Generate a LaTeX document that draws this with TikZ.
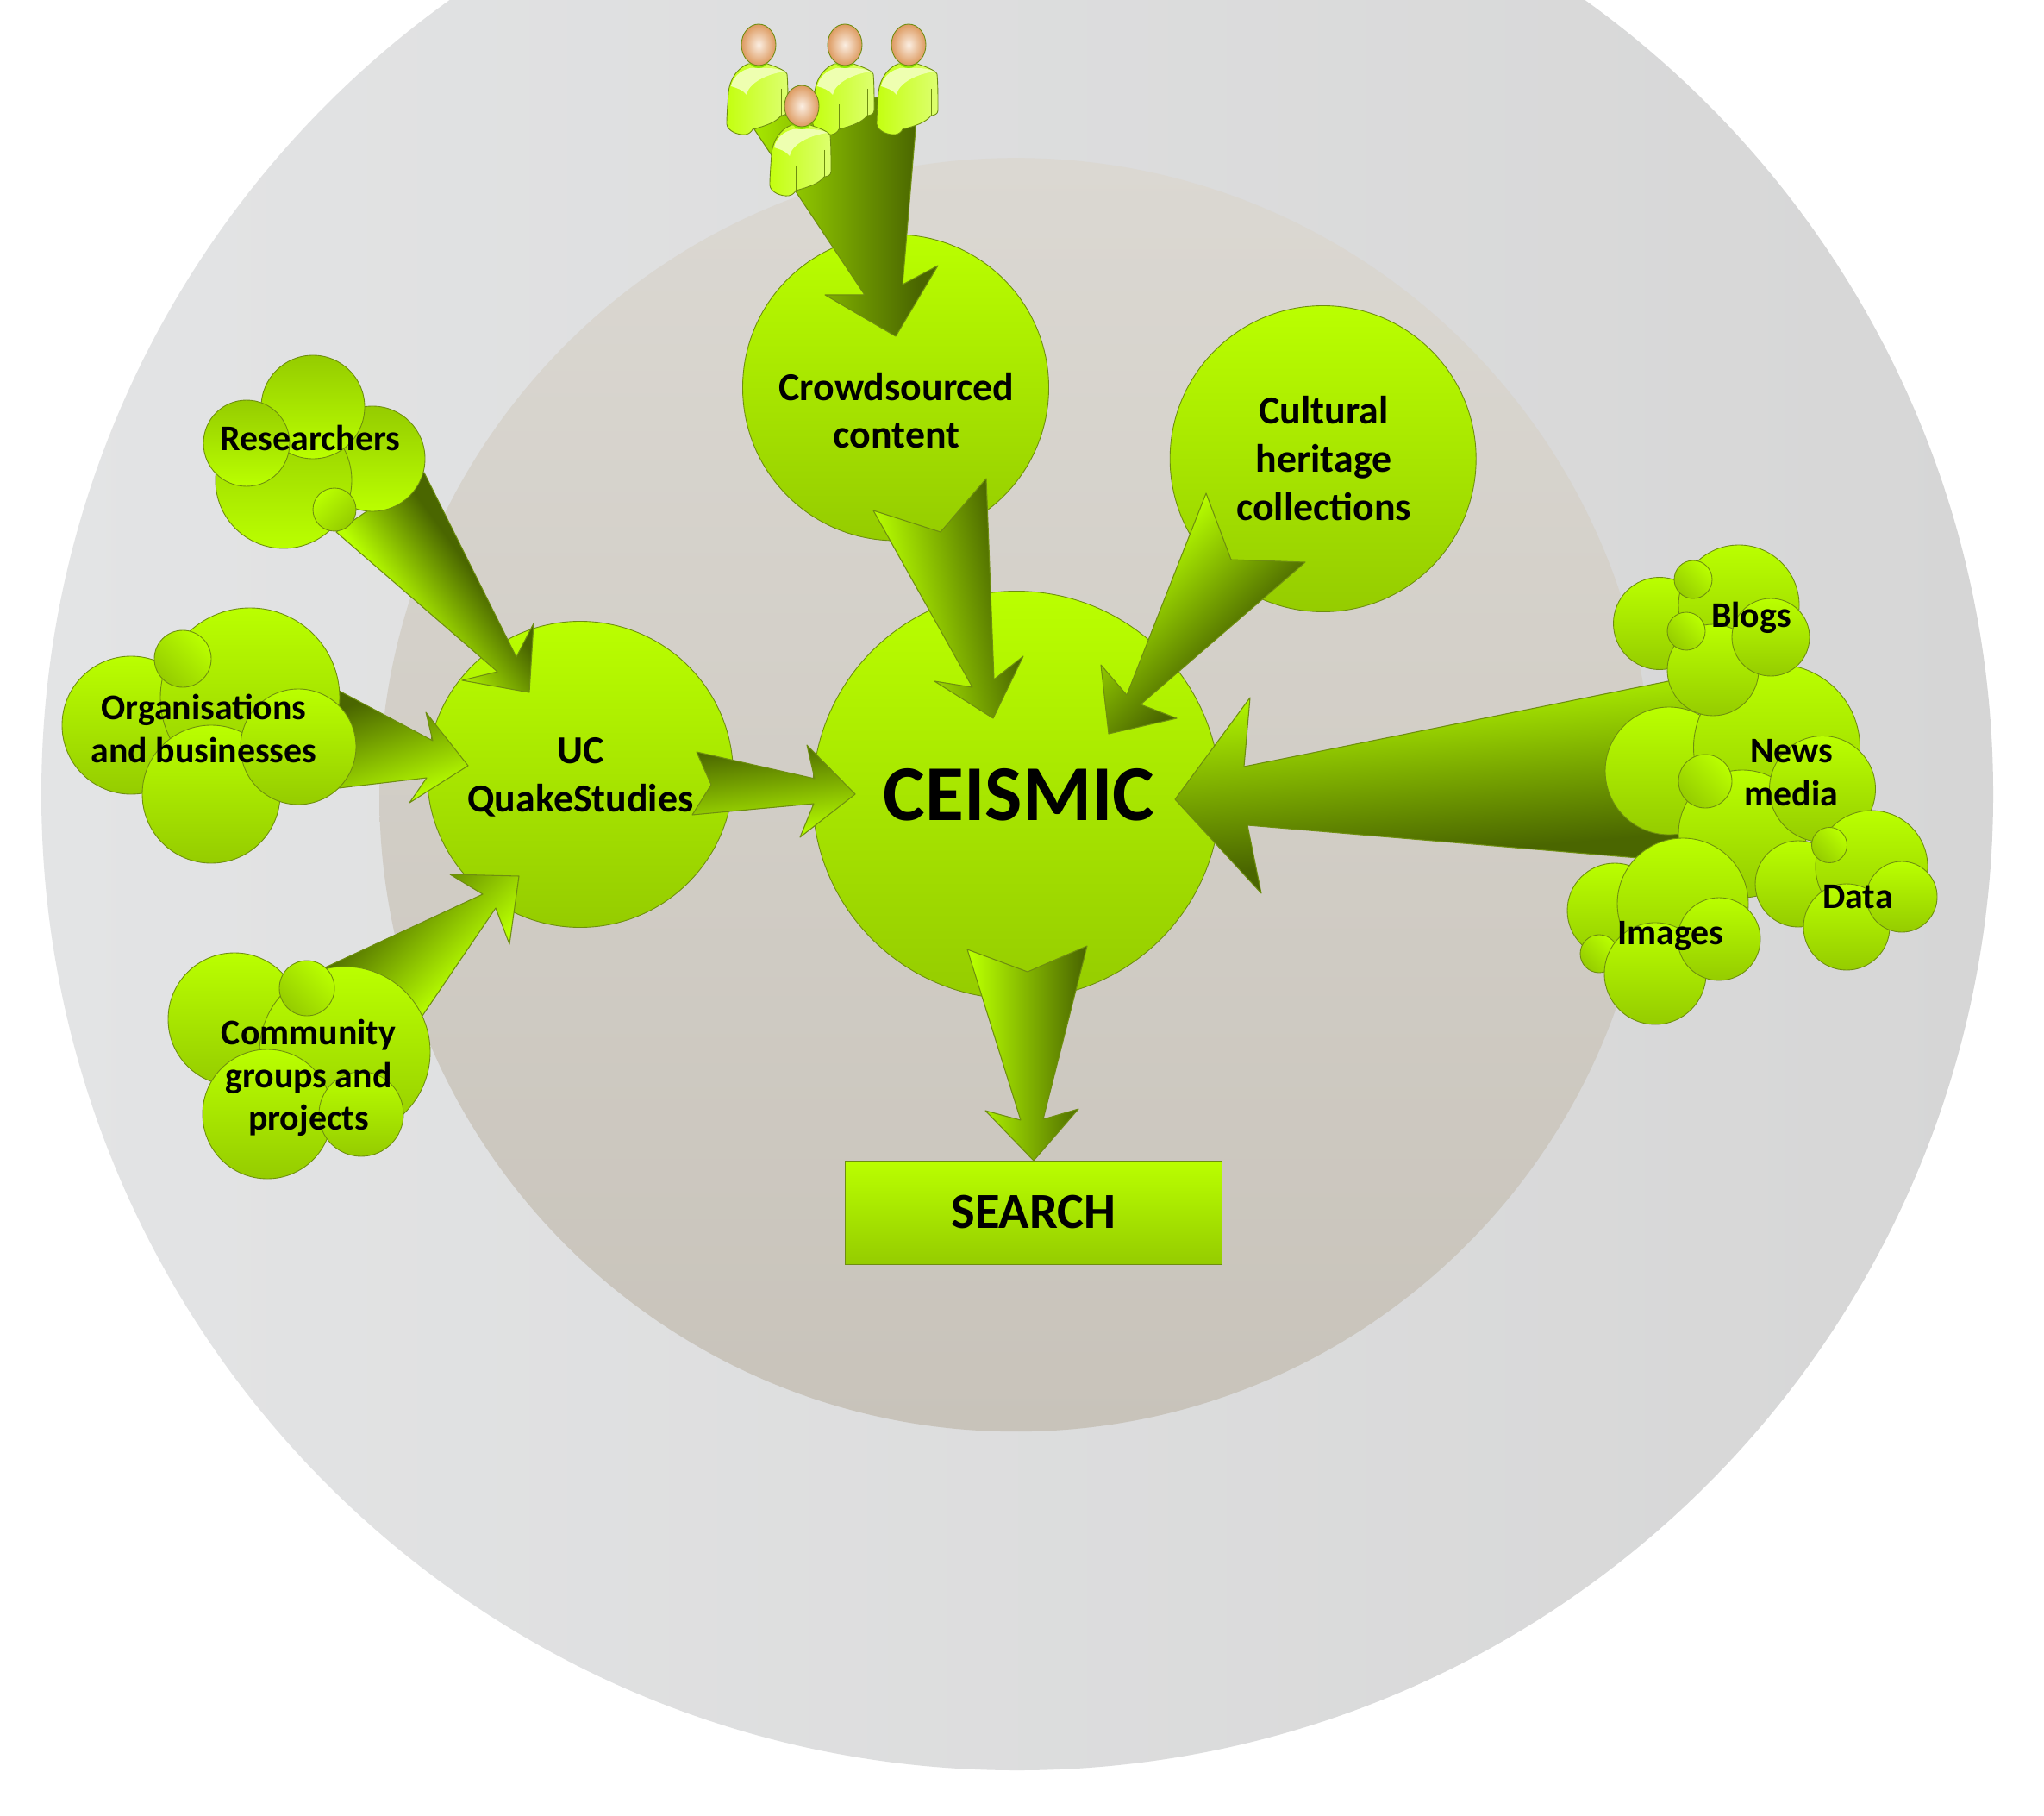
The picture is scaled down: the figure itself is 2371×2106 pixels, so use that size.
\documentclass[tikz,border=0pt]{standalone}
\usepackage{fontspec}
\setmainfont{Carlito}
\definecolor{bubt}{HTML}{BAFF00}
\definecolor{bubb}{HTML}{95CC00}
\definecolor{edgec}{HTML}{6E8E10}
\definecolor{arrl}{HTML}{B8FF00}
\definecolor{arrd}{HTML}{4A6600}
\definecolor{outerl}{HTML}{E3E4E5}
\definecolor{outerr}{HTML}{D6D6D6}
\definecolor{innert}{HTML}{DBD8D2}
\definecolor{innerb}{HTML}{C8C3BA}
\definecolor{bodyl}{HTML}{C4FF10}
\definecolor{bodyr}{HTML}{DDFF70}
\definecolor{bodyh}{HTML}{EEFFB0}
\definecolor{neckc}{HTML}{90E800}
\definecolor{headi}{HTML}{FBEEE2}
\definecolor{heado}{HTML}{DD9A60}
\pgfdeclarehorizontalshading{blockgrad}{100bp}{color(0bp)=(arrl); color(45.83bp)=(arrl); color(54.17bp)=(arrd); color(100bp)=(arrd)}
\newcommand{\blockarrow}[5]{%
  \pgfmathsetmacro\arrCx{(#1+#3)/2}%
  \pgfmathsetmacro\arrCy{(#2+#4)/2}%
  \pgfmathsetmacro\arrS{3*veclen(#3-#1,#4-#2)}%
  \pgfmathsetmacro\arrA{atan2(-(#4-#2),#3-#1)}%
  \begin{scope}
    \clip #5 -- cycle;
    \shade[shading=blockgrad,shading angle=\arrA] (\arrCx-\arrS,\arrCy-\arrS) rectangle (\arrCx+\arrS,\arrCy+\arrS);
  \end{scope}
  \draw[edgeline] #5 -- cycle;
}
\tikzset{
  edgeline/.style={draw=edgec,line width=0.6pt,line join=round},
  bub/.style={circle,draw=edgec,line width=0.5pt,inner sep=0pt,outer sep=0pt,minimum size=#1*0.2mm,top color=bubt,bottom color=bubb},
  bubrev/.style={circle,draw=edgec,line width=0.5pt,inner sep=0pt,outer sep=0pt,minimum size=#1*0.2mm,top color=bubb,bottom color=bubt},
  bubsm/.style={circle,draw=edgec,line width=0.5pt,inner sep=0pt,outer sep=0pt,minimum size=#1*0.2mm,left color=bubt,right color=bubb,shading angle=-45},
  bubsmrev/.style={circle,draw=edgec,line width=0.5pt,inner sep=0pt,outer sep=0pt,minimum size=#1*0.2mm,left color=bubt,right color=bubb,shading angle=45},
  labsm/.style={align=center,text=black,font=\bfseries\fontsize{23.8}{28.3}\selectfont},
  labmain/.style={align=center,text=black,font=\bfseries\fontsize{26.1}{31.7}\selectfont},
  personfig/.pic={
    \draw[draw=edgec,line width=0.5pt,left color=bodyl,right color=bodyr]
      (-12,22) .. controls (-24,27) and (-33,38) .. (-35,55)
      .. controls (-36,70) and (-37,82) .. (-37,92)
      .. controls (-36,100) and (-24,105) .. (-15,104)
      .. controls (-10,103) and (-8,100) .. (-7,98)
      .. controls (8,94) and (20,90) .. (26,82)
      .. controls (30,82) and (34,80) .. (34,76)
      .. controls (34,60) and (34,45) .. (33,34)
      .. controls (31,29) and (18,25) .. (10,22) -- cycle;
    \fill[bodyh]
      (-10,27) .. controls (-22,30) and (-30,38) .. (-32,48)
      .. controls (-26,50) and (-18,52) .. (-14,58)
      .. controls (-12,45) and (8,34) .. (30,31)
      .. controls (24,28) and (16,27) .. (10,27) -- cycle;
    \draw[edgec,line width=0.4pt] (-7,69) -- (-7,98) (26,51) -- (26,82);
    \fill[neckc] (-11,18) .. controls (-11,30) and (11,30) .. (11,18) -- cycle;
    \shade[draw=edgec,line width=0.5pt,inner color=headi,outer color=heado] (0,0) ellipse [x radius=20,y radius=24];
  }
}
\begin{document}
\begin{tikzpicture}[x=0.2mm,y=-0.2mm]
\useasboundingbox (0,0) rectangle (2371,2106);
\clip (0,0) rectangle (2371,2106);
\fill[white] (0,0) rectangle (2371,2106);
% background discs
\node[circle,inner sep=0pt,minimum size=452.8mm,left color=outerl,right color=outerr] (outer) at (1180,921) {};
\node[circle,inner sep=0pt,minimum size=295.4mm,top color=innert,bottom color=innerb] (inner) at (1178.6,921.7) {};
% main shapes
\node[bub=355] (crowd) at (1039,449.5) {};
\node[bub=355] (cultural) at (1534.7,532) {};
\node[bub=473] (ceismic) at (1179,922) {};
\node[bub=355] (uc) at (673,898) {};
\node[rectangle,draw=edgec,line width=0.5pt,inner sep=0pt,minimum width=87.4mm,minimum height=24mm,top color=bubt,bottom color=bubb] (search) at (1198.5,1406) {};
% block arrows
\blockarrow{840}{230}{1065}{230}{(875,150) -- (905,135) -- (1017,113) -- (1062,113) -- (1062,150) -- (1047,330) -- (1088,308) -- (1039,390) -- (957,342) -- (1003,342)}
\blockarrow{1020}{640}{1155}{615}{(1013,592) -- (1091,617) -- (1144,555) -- (1153,788) -- (1187,761) -- (1152,833) -- (1084,790) -- (1128,797)}
\blockarrow{1399}{572}{1505}{678}{(1399,572) -- (1428,649) -- (1514,652) -- (1323,817) -- (1365,833) -- (1286,851) -- (1277,771) -- (1307,806)}
\blockarrow{905}{972}{893}{864}{(808,872) -- (825,910) -- (803,945) -- (944,932) -- (928,971) -- (992,921) -- (936,864) -- (945,903)}
\blockarrow{1128}{1200}{1258}{1200}{(1122,1101) -- (1192,1127) -- (1261,1097) -- (1210,1298) -- (1251,1286) -- (1199,1346) -- (1143,1288) -- (1184,1299)}
\blockarrow{1591}{785}{1609}{995}{(1363,927) -- (1450,809) -- (1443,889) -- (1960,785) -- (1960,1000) -- (1447,957) -- (1463,1036)}
\blockarrow{405}{625}{480}{570}{(492,548) -- (390,617) -- (577,779) -- (536,789) -- (614,803) -- (619,723) -- (599,762)}
\blockarrow{440}{940}{400}{820}{(350,778) -- (502,859) -- (494,826) -- (543,888) -- (475,931) -- (495,902) -- (350,919)}
\blockarrow{530}{1140}{437}{1048}{(360,1130) -- (560,1037) -- (522,1014) -- (602,1016) -- (591,1095) -- (575,1053) -- (460,1222)}
% Researchers
\node[bubrev=122] (r1) at (432,532) {};
\node[bubrev=158] (r2) at (329,557) {};
\node[bubrev=120] (r3) at (363,472) {};
\node[bubrev=100] (r4) at (286,514) {};
\node[bubsmrev=50] (r5) at (388,591) {};
% Organisations
\node[bub=160] (o1) at (152,841) {};
\node[bub=208] (o2) at (290,809) {};
\node[bub=160] (o3) at (245,921) {};
\node[bub=134] (o4) at (346,866) {};
\node[bubsm=66] (o5) at (212,764) {};
% Community
\node[bub=154] (c1) at (272,1182) {};
\node[bub=198] (c2) at (400,1220) {};
\node[bub=150] (c3) at (310,1292) {};
\node[bub=98] (c4) at (419,1292) {};
\node[bubsm=64] (c5) at (356,1146) {};
% News media
\node[bub=148] (n1) at (1936,894) {};
\node[bub=193] (n2) at (2061,867) {};
\node[bub=148] (n3) at (2021,967) {};
\node[bub=123] (n4) at (2114,915) {};
\node[bubsm=62] (n5) at (1978,906) {};
% Blogs
\node[bub=107] (b1) at (1925,723) {};
\node[bub=140] (b2) at (2017,702) {};
\node[bub=106] (b3) at (1987,777) {};
\node[bub=90] (b4) at (2054,739) {};
\node[bubsm=44] (b5) at (1964,672) {};
\node[bubsm=44] (b6) at (1956,732) {};
% Data
\node[bub=100] (d1) at (2086,1025) {};
\node[bub=130] (d2) at (2171,1005) {};
\node[bub=100] (d3) at (2142,1075) {};
\node[bub=82] (d4) at (2206,1040) {};
\node[bubsm=41] (d5) at (2122,980) {};
% Images
\node[bub=110] (i1) at (1873,1056) {};
\node[bub=152] (i2) at (1952,1048) {};
\node[bubsm=44] (i3) at (1855,1106) {};
\node[bub=118] (i4) at (1920,1129) {};
\node[bub=96] (i5) at (1994,1089) {};
% people
\pic (p1) at (880,52) {personfig};
\pic (p2) at (980,52) {personfig};
\pic (p3) at (1054,52) {personfig};
\pic (p4) at (930,123) {personfig};
% labels
\node[labmain] (tcrowd) at (1040,476) {Crowdsourced\\content};
\node[labmain] (tcult) at (1535.5,531.5) {Cultural\\heritage\\collections};
\node[labmain] (tuc) at (673.5,901) {UC\\QuakeStudies};
\node[text=black,font=\bfseries\fontsize{52.2}{60}\selectfont] (tceis) at (1182,922) {CEISMIC};
\node[text=black,font=\bfseries\fontsize{33.3}{38}\selectfont] (tsearch) at (1199,1406) {SEARCH};
\node[labsm] (tres) at (360,507.5) {Researchers};
\node[labsm] (torg) at (236.5,845) {Organisations\\and businesses};
\node[labsm] (tcom) at (358,1250) {Community\\groups and\\projects};
\node[labsm] (tblog) at (2031.5,716.5) {Blogs};
\node[labsm] (tnews) at (2078,896) {News\\media};
\node[labsm] (tdata) at (2155,1040) {Data};
\node[labsm] (timg) at (1938,1085) {Images};
\end{tikzpicture}
\end{document}
